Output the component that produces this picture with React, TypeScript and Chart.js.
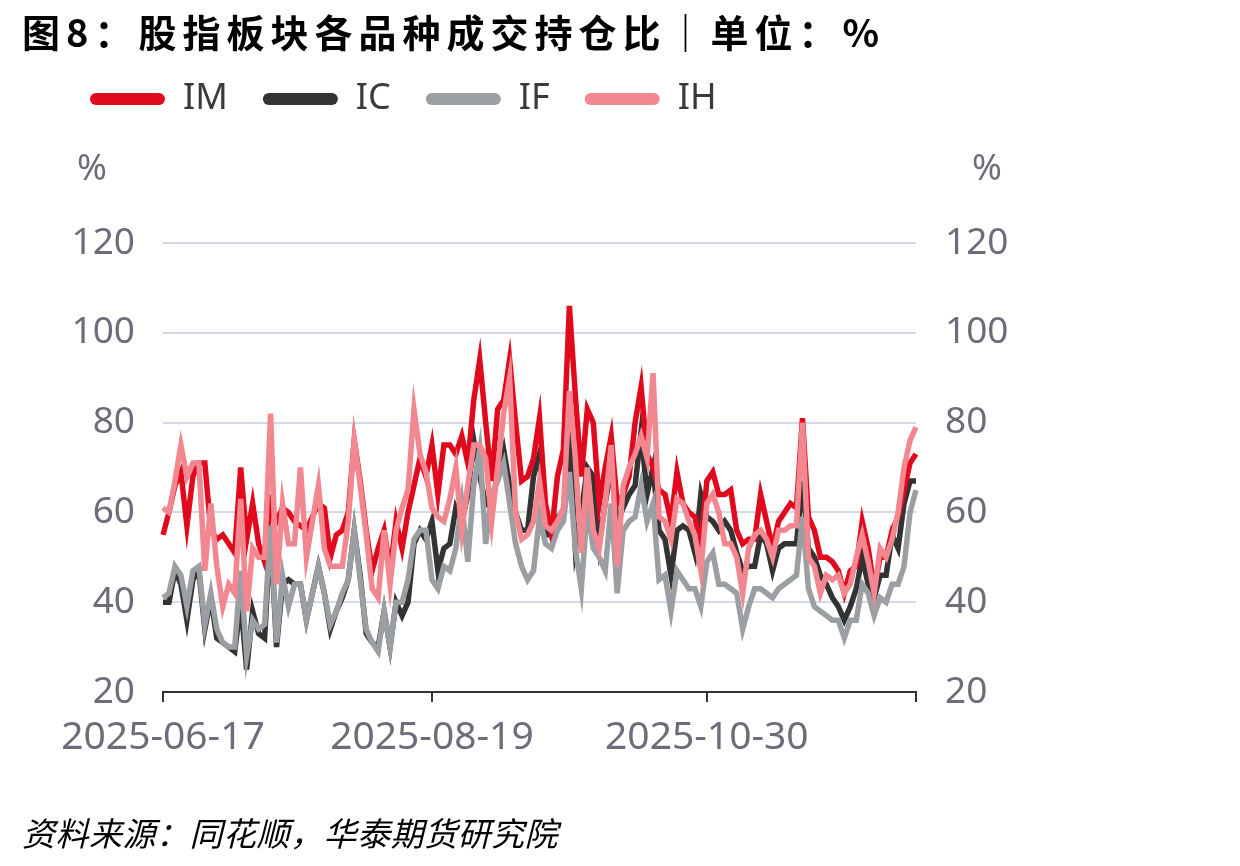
import React, { useEffect, useRef } from 'react';
import { Chart, registerables } from 'chart.js';

Chart.register(...registerables);

// Trading calendar: weekdays from 2025-06-17, excluding the National Day holiday
const START_DATE = '2025-06-17';
const HOLIDAYS = ['2025-10-01', '2025-10-02', '2025-10-03', '2025-10-06', '2025-10-07', '2025-10-08'];
const POINT_COUNT = 127;
const TICK_LABELS = ['2025-06-17', '2025-08-19', '2025-10-30'];
const Y_TICKS = [20, 40, 60, 80, 100, 120];

function buildDates(start: string, count: number): string[] {
  const out: string[] = [];
  const d = new Date(start + 'T00:00:00Z');
  while (out.length < count) {
    const s = d.toISOString().slice(0, 10);
    const wd = d.getUTCDay();
    if (wd !== 0 && wd !== 6 && !HOLIDAYS.includes(s)) out.push(s);
    d.setUTCDate(d.getUTCDate() + 1);
  }
  return out;
}
const DATES = buildDates(START_DATE, POINT_COUNT);

const IM = [
  55, 60, 66, 69, 57, 68, 71, 71, 56, 54,
  55, 53, 51, 70, 54, 62, 53, 49, 62, 58,
  61, 60, 58, 57, 56, 59, 62, 61, 50, 55,
  56, 60, 76, 67, 56, 47, 52, 56, 47, 58,
  52, 60, 66, 72, 68, 75, 64, 75, 75, 73,
  77, 71, 85, 94, 80, 67, 83, 85, 94, 80,
  67, 68, 72, 81, 62, 55, 68, 74, 106, 86,
  68, 83, 80, 62, 70, 77, 62, 64, 68, 80,
  88, 73, 70, 65, 64, 58, 69, 62, 60, 59,
  52, 67, 69, 64, 64, 65, 56, 53, 54, 54,
  64, 58, 52, 58, 60, 62, 61, 81, 59, 56,
  50, 50, 49, 47, 42, 47, 48, 58, 52, 43,
  50, 50, 56, 59, 65, 71, 73,
];

const IC = [
  40, 40, 47, 44, 36, 45, 47, 34, 41, 32,
  31, 30, 29, 40, 25, 38, 33, 32, 56, 30,
  44, 45, 44, 44, 36, 42, 48, 42, 34, 38,
  41, 45, 56, 46, 33, 31, 30, 38, 30, 40,
  37, 40, 53, 56, 54, 58, 47, 52, 53, 61,
  58, 64, 76, 68, 62, 61, 69, 74, 66, 60,
  56, 56, 68, 73, 55, 55, 59, 60, 78, 52,
  60, 70, 68, 53, 62, 70, 58, 61, 64, 66,
  78, 64, 70, 56, 54, 46, 56, 57, 56, 51,
  64, 59, 58, 56, 58, 56, 51, 47, 48, 48,
  55, 53, 47, 52, 53, 53, 53, 67, 52, 50,
  46, 44, 41, 39, 36, 39, 43, 50, 44, 41,
  46, 46, 55, 52, 62, 67, 67,
];

const IF = [
  41, 42, 48, 46, 39, 47, 48, 35, 42, 34,
  31, 30, 30, 47, 28, 36, 34, 35, 57, 31,
  46, 39, 44, 44, 36, 42, 48, 42, 35, 38,
  42, 45, 56, 45, 34, 31, 29, 38, 30, 40,
  40, 45, 54, 56, 56, 45, 43, 48, 47, 52,
  62, 49, 66, 74, 53, 64, 67, 71, 62, 53,
  48, 45, 47, 59, 53, 52, 56, 58, 69, 52,
  43, 61, 52, 50, 47, 62, 42, 56, 58, 59,
  66, 58, 62, 45, 46, 38, 47, 45, 43, 43,
  39, 49, 51, 44, 44, 43, 42, 34, 39, 43,
  43, 42, 41, 43, 44, 45, 46, 59, 43, 39,
  38, 37, 36, 36, 32, 36, 36, 44, 42, 37,
  41, 40, 44, 44, 48, 60, 65,
];

const IH = [
  61, 60, 67, 75, 68, 71, 71, 47, 62, 48,
  39, 44, 42, 63, 38, 52, 50, 50, 82, 44,
  62, 53, 53, 70, 50, 58, 66, 52, 48, 48,
  48, 58, 76, 66, 55, 43, 41, 56, 44, 56,
  61, 65, 83, 73, 69, 61, 59, 58, 63, 70,
  56, 66, 75, 75, 72, 58, 70, 82, 90, 60,
  54, 55, 58, 67, 57, 56, 58, 61, 87, 72,
  51, 70, 56, 52, 62, 75, 48, 66, 70, 73,
  77, 72, 91, 59, 58, 54, 63, 62, 58, 55,
  47, 62, 64, 60, 53, 53, 50, 42, 52, 55,
  56, 54, 50, 56, 56, 57, 57, 80, 50, 48,
  42, 46, 45, 46, 42, 44, 50, 55, 49, 42,
  52, 50, 54, 60, 70, 76, 79,
];

const SERIES_NAMES = ['IM', 'IC', 'IF', 'IH'];
const SERIES_COLORS = ['#e10a1c', '#333333', '#9b9ea2', '#f28790'];
const SERIES_ORDER = [3, 4, 2, 1];

const TITLE = '图8：股指板块各品种成交持仓比｜单位：%';
const SOURCE = '资料来源：同花顺，华泰期货研究院';
const TICK_COLOR = '#6c6c7a';
const GRID_COLOR = '#d5d8e6';

export default function App() {
  const canvasRef = useRef<HTMLCanvasElement | null>(null);

  useEffect(() => {
    const canvas = canvasRef.current;
    if (!canvas) return;
    Chart.defaults.font.family = "'Noto Sans', sans-serif";

    const seriesData = [IM, IC, IF, IH];
    const tickIdx = DATES.map((d, i) => (TICK_LABELS.includes(d) || i === DATES.length - 1 ? i : -1)).filter((i) => i >= 0);

    const legendSpacer = {
      id: 'legendSpacer',
      beforeLayout(chart: any) {
        if (chart.legend && !chart.legend.__patched) {
          const orig = chart.legend.fit;
          chart.legend.fit = function () {
            orig.call(this);
            this.height += 116;
          };
          chart.legend.__patched = true;
        }
      },
    };

    const unitLabels = {
      id: 'unitLabels',
      afterDraw(chart: any) {
        const ctx = chart.ctx;
        ctx.save();
        ctx.fillStyle = TICK_COLOR;
        ctx.font = "36px 'Noto Sans', sans-serif";
        ctx.textAlign = 'center';
        ctx.textBaseline = 'middle';
        ctx.fillText('%', 92, 170);
        ctx.fillText('%', 987, 170);
        ctx.restore();
      },
    };

    const chart = new Chart(canvas, {
      type: 'line',
      data: {
        labels: DATES,
        datasets: SERIES_NAMES.map((name, i) => ({
          label: name,
          data: seriesData[i],
          borderColor: SERIES_COLORS[i],
          backgroundColor: SERIES_COLORS[i],
          borderWidth: 5.5,
          pointRadius: 0,
          tension: 0,
          order: SERIES_ORDER[i],
          yAxisID: 'y',
        })),
      },
      options: {
        animation: false,
        responsive: true,
        maintainAspectRatio: false,
        layout: { padding: { top: 46, left: 55, right: 224, bottom: 74 } },
        plugins: {
          tooltip: { enabled: false },
          legend: {
            display: true,
            position: 'top',
            align: 'start',
            labels: {
              boxWidth: 75,
              boxHeight: 12,
              padding: 35,
              useBorderRadius: true,
              borderRadius: 6,
              color: '#3a3a3a',
              font: { size: 36 },
              sort: (a: any, b: any) => a.datasetIndex - b.datasetIndex,
              generateLabels: (c: any) =>
                (Chart.defaults.plugins.legend.labels as any).generateLabels(c).map((l: any) => ({
                  ...l,
                  lineWidth: 0,
                  fillStyle: SERIES_COLORS[l.datasetIndex],
                  strokeStyle: SERIES_COLORS[l.datasetIndex],
                })),
            },
          },
        },
        scales: {
          x: {
            type: 'category',
            offset: false,
            grid: {
              display: true,
              drawOnChartArea: false,
              drawTicks: true,
              tickLength: 10,
              lineWidth: 2,
              color: (ctx: any) => (tickIdx.includes(ctx.index) ? '#333333' : 'rgba(0,0,0,0)'),
            },
            border: { display: true, color: '#333333', width: 2 },
            ticks: {
              autoSkip: false,
              maxRotation: 0,
              minRotation: 0,
              padding: 12,
              color: TICK_COLOR,
              font: { size: 39 },
              callback: (_v: any, i: number) => (TICK_LABELS.includes(DATES[i]) ? DATES[i] : ''),
            },
            afterFit: (s: any) => {
              s.height = 100;
            },
          },
          y: {
            type: 'linear',
            position: 'left',
            min: 20,
            max: 120,
            grid: { color: GRID_COLOR, lineWidth: 2, drawTicks: false },
            border: { display: false },
            ticks: {
              stepSize: 20,
              padding: 28,
              color: TICK_COLOR,
              font: { size: 37 },
              callback: (v: any) => (Y_TICKS.includes(Number(v)) ? String(v) : ''),
            },
            afterFit: (s: any) => {
              s.width = 108;
            },
          },
          y2: {
            type: 'linear',
            position: 'right',
            min: 20,
            max: 120,
            grid: { display: false, drawTicks: false },
            border: { display: false },
            ticks: {
              stepSize: 20,
              padding: 29,
              color: TICK_COLOR,
              font: { size: 37 },
              callback: (v: any) => (Y_TICKS.includes(Number(v)) ? String(v) : ''),
            },
            afterFit: (s: any) => {
              s.width = 100;
            },
          },
        },
      } as any,
      plugins: [legendSpacer, unitLabels],
    });

    return () => chart.destroy();
  }, []);

  return (
    <div style={{ position: 'fixed', left: 0, top: 0, width: 1240, height: 866, background: '#ffffff', overflow: 'hidden' }}>
      <div
        style={{
          position: 'absolute',
          left: 22,
          top: 8,
          fontFamily: "'Noto Sans CJK SC', sans-serif",
          fontWeight: 700,
          fontSize: 38,
          letterSpacing: 6,
          color: '#000000',
          whiteSpace: 'nowrap',
          lineHeight: '46px',
          zIndex: 2,
        }}
      >
        {TITLE}
      </div>
      <canvas ref={canvasRef} style={{ position: 'absolute', left: 0, top: 0, width: 1240, height: 866 }} />
      <div
        style={{
          position: 'absolute',
          left: 22,
          top: 812,
          fontFamily: "'Noto Sans CJK SC', sans-serif",
          fontStyle: 'italic',
          fontSize: 33,
          letterSpacing: 0.5,
          color: '#000000',
          whiteSpace: 'nowrap',
          lineHeight: '40px',
          zIndex: 2,
        }}
      >
        {SOURCE}
      </div>
    </div>
  );
}
